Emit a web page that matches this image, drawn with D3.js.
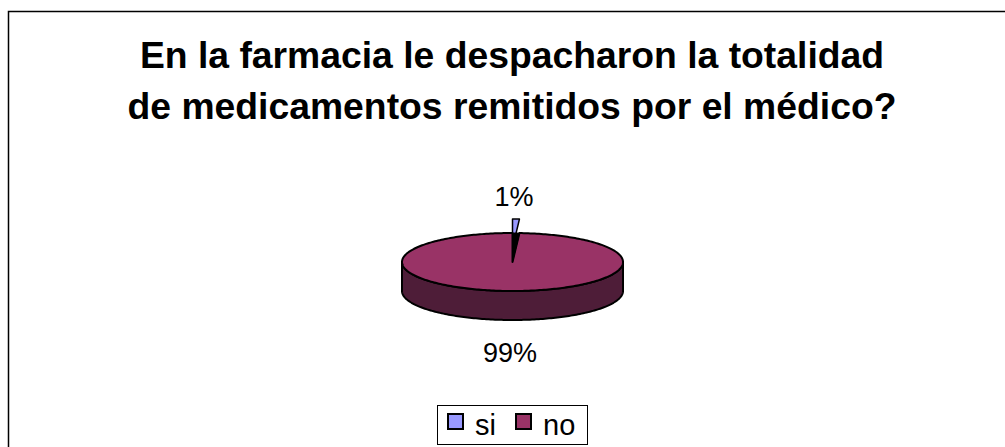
<!DOCTYPE html>
<html>
<head>
<meta charset="utf-8">
<script src="https://cdn.jsdelivr.net/npm/d3@7/dist/d3.min.js"></script>
<style>
  html, body { margin: 0; padding: 0; background: #fff; }
  svg { display: block; font-family: "Liberation Sans", Arial, sans-serif; }
</style>
</head>
<body>
<svg id="chart" width="1005" height="447"></svg>
<script>
// Survey answers
const categories = ["si", "no"];
const values = [1, 99];
const labels = ["1%", "99%"];
const titleLines = [
  "En la farmacia le despacharon la totalidad",
  "de medicamentos remitidos por el médico?"
];

const topColors = ["#9999FF", "#993366"];
const sideColors = ["#1a1a33", "#4E1D38"];

const svg = d3.select("#chart");
const W = 1005, H = 447;

// Outer chart frame (runs past the right and bottom edges)
svg.append("rect")
  .attr("x", 8.5).attr("y", 11.5)
  .attr("width", W + 20).attr("height", H + 20)
  .attr("fill", "#fff").attr("stroke", "#000").attr("stroke-width", 1.5);

// Title
svg.append("g").selectAll("text").data(titleLines).join("text")
  .attr("x", 512).attr("y", (d, i) => 68 + i * 51)
  .attr("text-anchor", "middle")
  .attr("font-weight", "bold").attr("font-size", 37.3)
  .text(d => d);

// Pseudo-3D pie geometry
const cx = 512.5, cy = 262, rx = 110.5, ry = 29, depth = 29;
const explodeY = 14;

const pie = d3.pie().sort(null).value(d => d)
  .startAngle(0).endAngle(2 * Math.PI);
const arcs = pie(values);

// projected point on the top face for angle a (clockwise from 12 o'clock)
const px = a => cx + rx * Math.sin(a);
const py = a => cy - ry * Math.cos(a);

function ellipseArcPath(a0, a1, dy, steps) {
  const pts = [];
  const n = steps || Math.max(4, Math.ceil((a1 - a0) / 0.02));
  for (let i = 0; i <= n; i++) {
    const a = a0 + (a1 - a0) * i / n;
    pts.push([px(a), py(a) + dy]);
  }
  return pts;
}

const line = d3.line();
const g = svg.append("g");

const si = arcs[0], no = arcs[1];

// exploded "si" slice: top face pushed back
const siPts = [[cx, cy - explodeY]].concat(ellipseArcPath(si.startAngle, si.endAngle, -explodeY, 6));
g.append("path")
  .attr("d", line(siPts) + "Z")
  .attr("fill", topColors[0]).attr("stroke", "#000").attr("stroke-width", 1.5)
  .attr("stroke-linejoin", "round");

// "no" slice: front side wall (visible from PI/2 to 3PI/2)
const sideA0 = Math.max(no.startAngle, Math.PI / 2);
const sideA1 = Math.min(no.endAngle, 3 * Math.PI / 2);
const topEdge = ellipseArcPath(sideA0, sideA1, 0);
const botEdge = ellipseArcPath(sideA0, sideA1, depth).reverse();
g.append("path")
  .attr("d", line(topEdge.concat(botEdge)) + "Z")
  .attr("fill", sideColors[1]).attr("stroke", "#000").attr("stroke-width", 2)
  .attr("stroke-linejoin", "round");

// "no" slice: top face
const noPts = [[cx, cy]].concat(ellipseArcPath(no.startAngle, no.endAngle, 0));
g.append("path")
  .attr("d", line(noPts) + "Z")
  .attr("fill", topColors[1]).attr("stroke", "#000").attr("stroke-width", 2)
  .attr("stroke-linejoin", "round");

// the cut between the slices shows the dark inner wall
const gapPts = [[cx, cy]].concat(ellipseArcPath(si.startAngle, si.endAngle, 0, 6));
g.append("path")
  .attr("d", line(gapPts) + "Z")
  .attr("fill", "#000").attr("stroke", "#000").attr("stroke-width", 1);

// percentage labels
svg.append("text").attr("x", 514).attr("y", 206)
  .attr("text-anchor", "middle").attr("font-size", 27).text(labels[0]);
svg.append("text").attr("x", 510).attr("y", 362)
  .attr("text-anchor", "middle").attr("font-size", 27).text(labels[1]);

// legend
const lg = svg.append("g");
lg.append("rect")
  .attr("x", 437.5).attr("y", 405.5).attr("width", 150).attr("height", 39)
  .attr("fill", "#fff").attr("stroke", "#000").attr("stroke-width", 1);
const itemX = [448, 516], textX = [475, 543];
categories.forEach((c, i) => {
  lg.append("rect")
    .attr("x", itemX[i]).attr("y", 414).attr("width", 15).attr("height", 15)
    .attr("fill", topColors[i]).attr("stroke", "#000").attr("stroke-width", 2);
  lg.append("text")
    .attr("x", textX[i]).attr("y", 435).attr("font-size", 29).text(c);
});
</script>
</body>
</html>
